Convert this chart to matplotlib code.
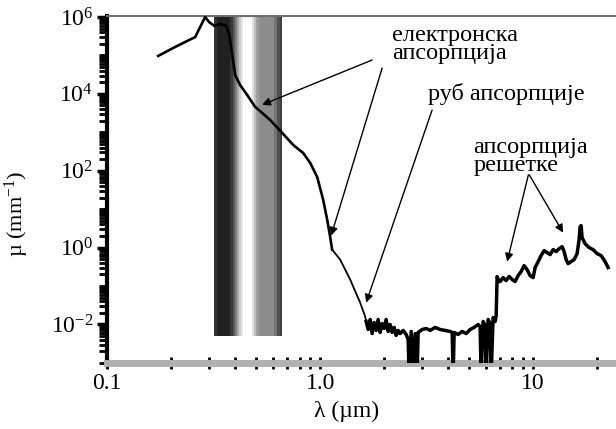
import matplotlib
matplotlib.use("Agg")
import matplotlib.pyplot as plt
from matplotlib.ticker import LogLocator, FixedLocator, FixedFormatter, NullFormatter

plt.rcParams['font.family'] = ['Liberation Serif', 'DejaVu Serif']
plt.rcParams['mathtext.fontset'] = 'custom'
plt.rcParams['mathtext.rm'] = 'Liberation Serif'
plt.rcParams['mathtext.it'] = 'Liberation Serif:italic'

# апсорпциони спектар: таласна дужина (µm) и коефицијент апсорпције (mm^-1)
lam = [0.1735, 0.2085, 0.2323, 0.2589, 0.2733, 0.2884, 0.301, 0.318, 0.339, 0.362,
       0.374, 0.399, 0.421, 0.454, 0.495, 0.534, 0.582, 0.663, 0.747, 0.832,
       0.898, 0.968, 1.033, 1.079, 1.114, 1.138, 1.241, 1.383, 1.541, 1.626,
       # под (руб апсорпције)
       1.644, 1.680, 1.717, 1.754, 1.793, 1.832, 1.872, 1.913, 1.955, 1.998,
       2.041, 2.086, 2.131, 2.178, 2.226, 2.275, 2.324, 2.375, 2.453, 2.534,
       2.589, 2.617, 2.675, 2.733, 2.793, 2.854, 2.885, 3.012, 3.146, 3.284,
       3.467, 3.660, 3.863, 4.077, 4.167, 4.212, 4.258, 4.446, 4.642, 4.847,
       5.061, 5.284, 5.518, 5.638, 5.700, 5.825, 5.952, 6.016, 6.149, 6.283,
       6.351, 6.491, 6.633, 6.706,
       # апсорпција решетке
       6.776, 6.923, 7.00, 7.23, 7.47, 7.72, 7.97, 8.23, 8.50, 8.78,
       9.07, 9.37, 9.68, 10.0, 10.22, 10.56, 10.90, 11.26, 11.63, 12.02,
       12.42, 12.82, 13.25, 13.69, 13.98, 14.29, 14.60, 15.08, 15.58, 16.09,
       16.44, 16.62, 16.80, 16.98, 17.54, 18.32, 19.13, 19.97, 20.85, 21.78, 22.50]
mu = [9.7e4, 1.66e5, 2.24e5, 3.0e5, 5.5e5, 1.0e6, 7.4e5, 5.9e5, 6.6e5, 5.9e5,
      3.6e5, 3.1e4, 1.7e4, 9.4e3, 4.6e3, 3.2e3, 2.1e3, 9.7e2, 4.7e2, 2.9e2,
      1.6e2, 69, 17.7, 5.3, 1.93, 0.89, 0.49, 0.148, 0.037, 0.0162,
      0.0120, 0.0074, 0.0135, 0.0058, 0.0113, 0.0070, 0.0135, 0.0062, 0.0106, 0.0079,
      0.0135, 0.0066, 0.0100, 0.0062, 0.0084, 0.0052, 0.0070, 0.0058, 0.0070, 0.0055,
      0.0041, 0.0005, 0.0066, 0.0005, 0.0058, 0.0005, 0.0062, 0.0074, 0.0079, 0.0070,
      0.0084, 0.0074, 0.0070, 0.0066, 0.0062, 0.0005, 0.0062, 0.0055, 0.0066, 0.0058,
      0.0074, 0.0084, 0.0100, 0.0089, 0.0005, 0.0120, 0.0094, 0.0005, 0.0135, 0.0106,
      0.0005, 0.0152, 0.0120, 0.0171,
      0.177, 0.131, 0.131, 0.166, 0.139, 0.177, 0.148, 0.131, 0.187, 0.238,
      0.340, 0.268, 0.187, 0.166, 0.303, 0.433, 0.62, 0.836, 0.741, 0.658,
      0.887, 0.787, 0.942, 1.06, 0.787, 0.488, 0.384, 0.433, 0.488, 0.698,
      1.61, 3.51, 3.73, 1.82, 1.27, 1.0, 0.887, 0.698, 0.62, 0.433, 0.303]

# видљиви део спектра (сива трака)
band_edges = [0.318, 0.3283, 0.3779, 0.3904, 0.3991, 0.4076, 0.4166, 0.4257, 0.4350,
              0.4794, 0.4899, 0.5006, 0.5116, 0.5227, 0.6081, 0.6282, 0.6491, 0.6633]
band_gray = [0.2, 0.13, 0.22, 0.35, 0.5, 0.65, 0.8, 0.9, 1.0,
             0.88, 0.75, 0.63, 0.58, 0.55, 0.45, 0.32, 0.25]
band_bottom = 0.0049

fig = plt.figure(figsize=(6.16, 4.29), dpi=100)
ax = fig.add_axes([0.174, 0.154, 0.826, 0.809])

ax.set_xscale('log')
ax.set_yscale('log')
ax.set_xlim(0.1, 24.5)
ax.set_ylim(1e-3, 1.07e6)

ax.pcolormesh(band_edges, [band_bottom, 1.07e6], [band_gray], cmap='gray',
              vmin=0, vmax=1, shading='flat', zorder=1)

# крива: до руба дебља, низ руб тања, под и решетка дебље
ax.plot(lam[:26], mu[:26], color='black', lw=1.9, zorder=3)
ax.plot(lam[25:31], mu[25:31], color='black', lw=1.3, zorder=3)
ax.plot(lam[30:], mu[30:], color='black', lw=2.5, zorder=3)

# натписи и стрелице
arrow = dict(arrowstyle='-|>', color='black', lw=1.0, mutation_scale=12,
             shrinkA=0, shrinkB=0)
ax.text(2.178, 1.9e5, 'електронска\nапсорпција', fontsize=17.5, va='center',
        ha='left', linespacing=0.8)
ax.annotate('', xy=(0.534, 5.2e3), xytext=(1.754, 7.6e4), arrowprops=arrow)
ax.annotate('', xy=(1.126, 2.05), xytext=(1.955, 4.7e4), arrowprops=arrow)

ax.text(3.214, 7.0e3, 'руб апсорпције', fontsize=17.5, va='baseline', ha='left')
ax.annotate('', xy=(1.644, 0.037), xytext=(3.355, 3.8e3), arrowprops=arrow)

ax.text(5.23, 2.3e2, 'апсорпција\nрешетке', fontsize=17.5, va='center',
        ha='left', linespacing=0.8)
ax.annotate('', xy=(7.55, 0.433), xytext=(9.5, 78), arrowprops=arrow)
ax.annotate('', xy=(13.83, 2.45), xytext=(9.6, 78), arrowprops=arrow)

# осе
ax.spines['right'].set_visible(False)
ax.spines['left'].set_color('black')
ax.spines['left'].set_linewidth(3)
ax.spines['bottom'].set_color('#b0b0b0')
ax.spines['bottom'].set_linewidth(5)
ax.spines['top'].set_color('#6e6e6e')
ax.spines['top'].set_linewidth(1.5)

ax.xaxis.set_major_locator(FixedLocator([0.1, 1.0, 10]))
ax.xaxis.set_major_formatter(FixedFormatter(['0.1', '1.0', '10']))
ax.xaxis.set_minor_locator(LogLocator(base=10, subs=range(2, 10), numticks=20))
ax.xaxis.set_minor_formatter(NullFormatter())
ax.tick_params(axis='x', which='both', direction='inout', length=9, width=2,
               color='black', labelsize=17, pad=3, top=False)

ax.yaxis.set_major_locator(FixedLocator([1e-2, 1, 1e2, 1e4, 1e6]))
ax.yaxis.set_minor_locator(LogLocator(base=10, subs=range(1, 10), numticks=20))
ax.yaxis.set_minor_formatter(NullFormatter())
ax.tick_params(axis='y', which='major', direction='out', length=7, width=2.5,
               color='black', labelsize=17, pad=3)
ax.tick_params(axis='y', which='minor', direction='out', length=6, width=2,
               color='black')

ax.set_xlabel('λ (µm)', fontsize=17)
ax.set_ylabel('µ (mm$^{-1}$)', fontsize=16)
ax.xaxis.set_label_coords(0.47, -0.11)
ax.yaxis.set_label_coords(-0.15, 0.43)

fig.savefig('out.png', dpi=100)
